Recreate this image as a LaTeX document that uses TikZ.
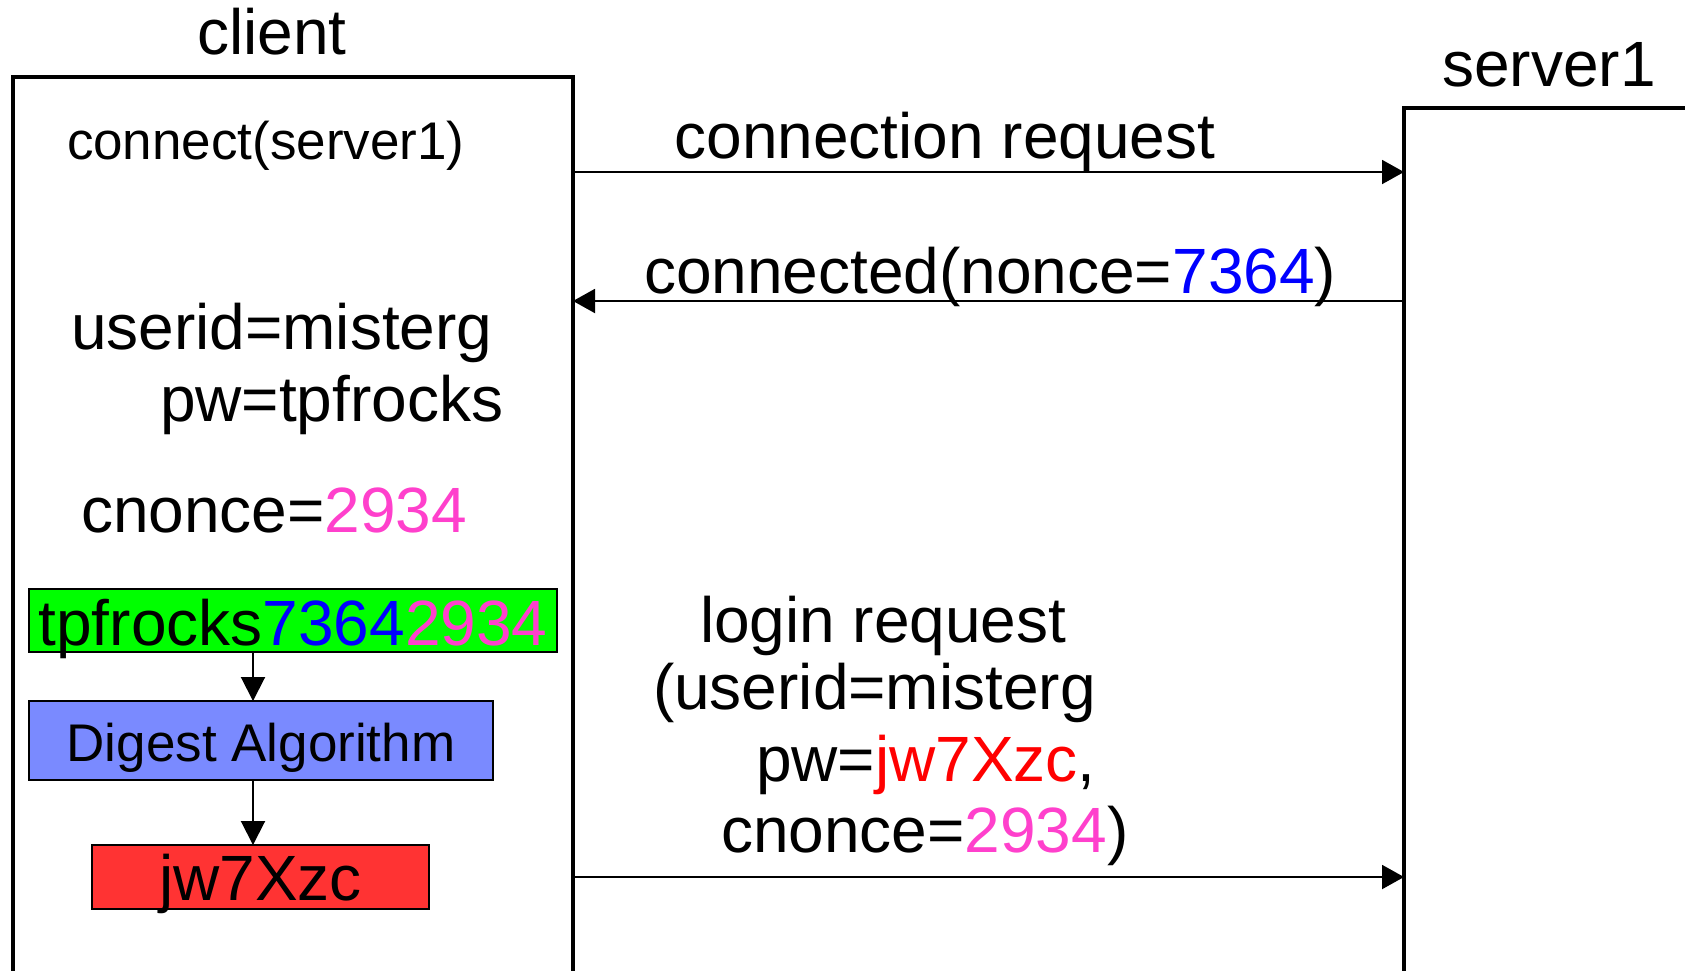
\documentclass[tikz,border=0pt]{standalone}
\usepackage{fontspec}
\setmainfont{Liberation Sans}
\usetikzlibrary{arrows.meta}

\definecolor{noncecol}{RGB}{0,0,255}
\definecolor{cnoncecol}{RGB}{255,64,204}
\definecolor{hashcol}{RGB}{255,0,0}
\definecolor{inputfill}{RGB}{0,255,0}
\definecolor{digestfill}{RGB}{122,138,255}
\definecolor{outputfill}{RGB}{255,51,51}

\begin{document}
\begin{tikzpicture}[x=1pt,y=-1pt,
  every node/.style={inner sep=0pt, outer sep=0pt},
  big/.style={font=\fontsize{64}{64}\selectfont},
  small/.style={font=\fontsize{53}{53}\selectfont},
  party/.style={draw, line width=4pt, anchor=north west, minimum height=1000pt},
  msg/.style={line width=2pt, -{Triangle[length=22pt,width=24pt]}},
  flow/.style={line width=2pt, -{Triangle[length=24pt,width=24pt]}},
  stepbox/.style={draw, line width=1.5pt, anchor=north west}]

\useasboundingbox (0,0) rectangle (1685,970);
\clip (0,0) rectangle (1685,970);

% the two parties (open at the bottom)
\node[party, minimum width=560pt] (client) at (13,77) {};
\node[party, minimum width=400pt] (server) at (1404,108) {};
\node[big, anchor=base] (clientlabel) at (272,54) {client};
\node[big, anchor=base] (serverlabel) at (1549,86) {server1};

% messages
\draw[msg] (client.east |- 0,172) -- (server.west |- 0,172);
\node[big, anchor=base] (reqlabel) at (945,158) {connection request};

\draw[msg] (server.west |- 0,301) -- (client.east |- 0,301);
\node[big, anchor=base west] (noncelabel) at (644,293) {connected(nonce=\textcolor{noncecol}{7364})};

\draw[msg] (client.east |- 0,877) -- (server.west |- 0,877);
\node[big, anchor=base west] (login1) at (700,642) {login request};
\node[big, anchor=base west] (login2) at (653,709) {(userid=misterg};
\node[big, anchor=base west] (login3) at (756,781) {pw=\textcolor{hashcol}{jw7Xzc},};
\node[big, anchor=base west] (login4) at (721,852) {cnonce=\textcolor{cnoncecol}{2934})};

% client-side state
\node[small, anchor=base west] (connectcall) at (67,159) {connect(server1)};
\node[big, anchor=base west] (userid) at (71,349) {userid=misterg};
\node[big, anchor=base west] (pw) at (160,421) {pw=tpfrocks};
\node[big, anchor=base west] (cnonce) at (81,532) {cnonce=\textcolor{cnoncecol}{2934}};

% digest computation
\node[stepbox, fill=inputfill, big, minimum width=528pt, text height=56pt, text depth=7pt] (input) at (29,589)
  {tpfrocks\textcolor{noncecol}{7364}\textcolor{cnoncecol}{2934}};
\node[stepbox, fill=digestfill, small, minimum width=464pt, text height=60pt, text depth=19pt] (digest) at (29,701)
  {Digest Algorithm};
\node[stepbox, fill=outputfill, big, minimum width=337pt, text height=55pt, text depth=9pt] (output) at (92,845)
  {jw7Xzc};

\coordinate (flowx) at (253,0);
\draw[flow] (input.south -| flowx) -- (digest.north -| flowx);
\draw[flow] (digest.south -| flowx) -- (output.north -| flowx);
\end{tikzpicture}
\end{document}
